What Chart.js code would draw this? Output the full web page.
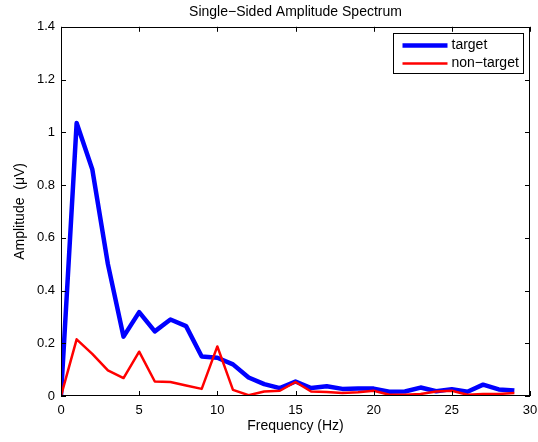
<!DOCTYPE html>
<html>
<head>
<meta charset="utf-8">
<script src="https://cdn.jsdelivr.net/npm/chart.js@4"></script>
<style>
html,body{margin:0;padding:0;background:#fff;}
canvas{display:block;}
</style>
</head>
<body>
<canvas id="c" width="538" height="442"></canvas>
<script>
const frequencies = [0,1,2,3,4,5,6,7,8,9,10,11,12,13,14,15,16,17,18,19,20,21,22,23,24,25,26,27,28,29];
const targetAmp = [0,1.035,0.86,0.5,0.225,0.318,0.245,0.29,0.265,0.15,0.145,0.12,0.07,0.045,0.03,0.055,0.03,0.037,0.027,0.028,0.028,0.016,0.017,0.032,0.018,0.026,0.016,0.043,0.025,0.021];
const nonTargetAmp = [0,0.215,0.16,0.097,0.068,0.168,0.055,0.053,0.04,0.027,0.188,0.023,0.003,0.017,0.02,0.053,0.017,0.015,0.011,0.014,0.02,0.005,0.005,0.008,0.017,0.02,0.005,0.008,0.008,0.011];
const xTicks = [0,5,10,15,20,25,30];
const yTicks = [0,0.2,0.4,0.6,0.8,1,1.2,1.4];
const seriesLabels = ['target','non\u2212target'];
const titleText = 'Single\u2212Sided Amplitude Spectrum';
const xTitle = 'Frequency (Hz)';
const yTitle = 'Amplitude  (\u03BCV)';

const FONT = '"Liberation Sans", Arial, Helvetica, sans-serif';

const toPoints = (xs, ys) => xs.map((x, i) => ({x: x, y: ys[i]}));

const boxPlugin = {
  id: 'matlabBox',
  afterDraw(chart) {
    const ctx = chart.ctx;
    const a = chart.chartArea;
    const xs = chart.scales.x, ys = chart.scales.y;
    ctx.save();
    ctx.strokeStyle = '#000';
    ctx.lineWidth = 1;
    const tl = 5;
    ctx.beginPath();
    xTicks.forEach(v => {
      const px = Math.round(xs.getPixelForValue(v)) + 0.5;
      ctx.moveTo(px, a.bottom); ctx.lineTo(px, a.bottom - tl);
      ctx.moveTo(px, a.top); ctx.lineTo(px, a.top + tl);
    });
    yTicks.forEach(v => {
      const py = Math.round(ys.getPixelForValue(v)) + 0.5;
      ctx.moveTo(a.left, py); ctx.lineTo(a.left + tl, py);
      ctx.moveTo(a.right, py); ctx.lineTo(a.right - tl, py);
    });
    ctx.stroke();
    ctx.strokeRect(Math.round(a.left) + 0.5, Math.round(a.top) + 0.5,
                   Math.round(a.right - a.left) - 1, Math.round(a.bottom - a.top) - 1);
    // legend
    const lw = 130, lh = 40;
    const lx = Math.round(a.right - 7 - lw) + 0.5;
    const ly = Math.round(a.top + 6) + 0.5;
    ctx.fillStyle = '#fff';
    ctx.fillRect(lx, ly, lw, lh);
    ctx.strokeStyle = '#000';
    ctx.lineWidth = 1;
    ctx.strokeRect(lx, ly, lw, lh);
    ctx.font = '14px ' + FONT;
    ctx.textBaseline = 'middle';
    ctx.textAlign = 'left';
    chart.data.datasets.forEach((ds, i) => {
      const yy = ly + 12 + i * 18;
      ctx.beginPath();
      ctx.strokeStyle = ds.borderColor;
      ctx.lineWidth = ds.borderWidth;
      ctx.moveTo(lx + 9, yy);
      ctx.lineTo(lx + 54, yy);
      ctx.stroke();
      ctx.fillStyle = '#000';
      ctx.fillText(ds.label, lx + 58, yy);
    });
    ctx.restore();
  }
};

new Chart(document.getElementById('c'), {
  type: 'line',
  data: {
    datasets: [
      {label: seriesLabels[0], data: toPoints(frequencies, targetAmp), borderColor: '#0000ff', borderWidth: 4.5, pointRadius: 0, fill: false, tension: 0, borderJoinStyle: 'round', order: 1},
      {label: seriesLabels[1], data: toPoints(frequencies, nonTargetAmp), borderColor: '#ff0000', borderWidth: 2.5, pointRadius: 0, fill: false, tension: 0, borderJoinStyle: 'round', order: 0}
    ]
  },
  options: {
    responsive: false,
    devicePixelRatio: 1,
    animation: false,
    layout: {padding: {left: 0, right: 8, top: 0, bottom: 0}},
    plugins: {
      legend: {display: false},
      tooltip: {enabled: false},
      title: {display: true, fullSize: false, text: titleText, color: '#000', font: {family: FONT, size: 14, weight: 'normal'}, padding: {top: 4, bottom: 6}}
    },
    scales: {
      x: {
        type: 'linear', min: 0, max: 30,
        afterBuildTicks: s => { s.ticks = xTicks.map(v => ({value: v})); },
        afterFit: s => { s.height = 46; s.paddingLeft = 0; s.paddingRight = 0; },
        grid: {display: false, drawTicks: false},
        border: {display: false},
        ticks: {color: '#000', font: {family: FONT, size: 13}, padding: 7, maxRotation: 0},
        title: {display: true, text: xTitle, color: '#000', font: {family: FONT, size: 14}, padding: {top: 0, bottom: 7}}
      },
      y: {
        type: 'linear', min: 0, max: 1.4,
        afterBuildTicks: s => { s.ticks = yTicks.map(v => ({value: v})); },
        afterFit: s => { s.width = 61; s.paddingTop = 0; s.paddingBottom = 0; },
        grid: {display: false, drawTicks: false},
        border: {display: false},
        ticks: {color: '#000', font: {family: FONT, size: 13}, padding: 6, callback: v => String(v)},
        title: {display: true, text: yTitle, color: '#000', font: {family: FONT, size: 14}, padding: {top: 12, bottom: 0}}
      }
    }
  },
  plugins: [boxPlugin]
});
</script>
</body>
</html>
